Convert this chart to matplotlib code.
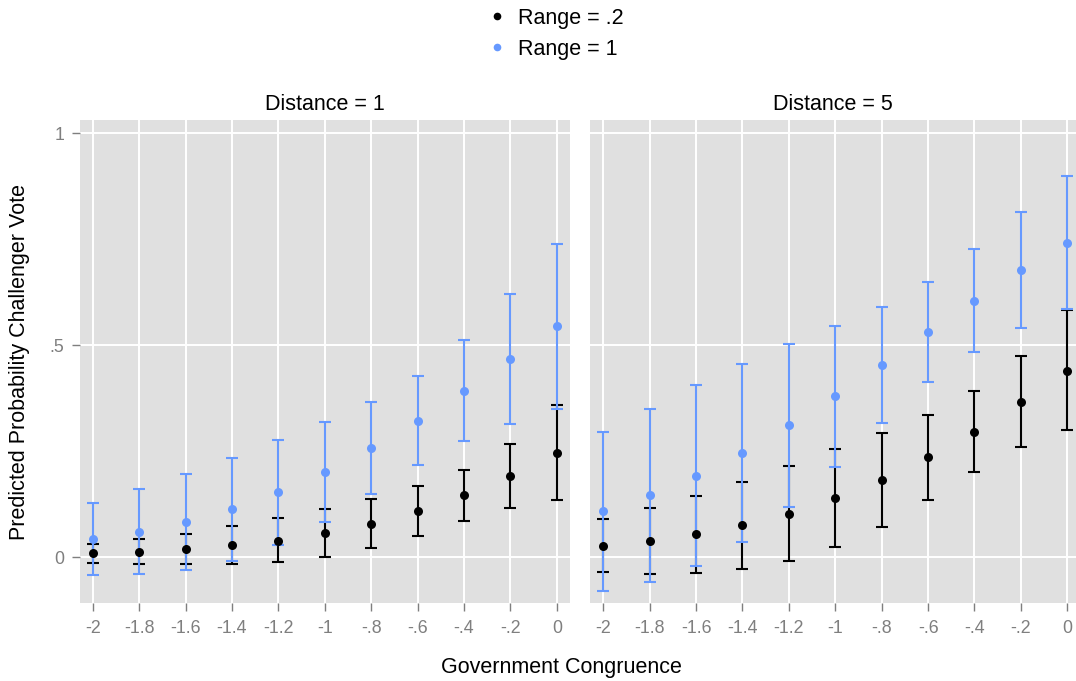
import matplotlib
matplotlib.use("Agg")
import matplotlib.pyplot as plt
from matplotlib.lines import Line2D

plt.rcParams['font.family'] = ['Liberation Sans', 'DejaVu Sans']

# ---- data -------------------------------------------------------------
gov_congruence = [-2.0, -1.8, -1.6, -1.4, -1.2, -1.0, -0.8, -0.6, -0.4, -0.2, 0.0]
x_tick_labels = ['-2', '-1.8', '-1.6', '-1.4', '-1.2', '-1', '-.8', '-.6', '-.4', '-.2', '0']
y_ticks = [0, 0.5, 1]
y_tick_labels = ['0', '.5', '1']
panel_titles = ['Distance = 1', 'Distance = 5']
series_labels = ['Range = .2', 'Range = 1']

# Distance = 1
d1_r02_est = [0.009, 0.013, 0.020, 0.028, 0.039, 0.057, 0.079, 0.108, 0.146, 0.192, 0.246]
d1_r02_lo = [-0.014, -0.016, -0.017, -0.016, -0.011, 0.001, 0.021, 0.050, 0.086, 0.116, 0.134]
d1_r02_hi = [0.031, 0.042, 0.055, 0.073, 0.092, 0.113, 0.137, 0.167, 0.206, 0.267, 0.358]
d1_r1_est = [0.042, 0.060, 0.084, 0.114, 0.153, 0.200, 0.258, 0.322, 0.392, 0.467, 0.545]
d1_r1_lo = [-0.042, -0.040, -0.031, -0.008, 0.028, 0.083, 0.149, 0.217, 0.274, 0.315, 0.349]
d1_r1_hi = [0.127, 0.161, 0.197, 0.235, 0.277, 0.318, 0.365, 0.427, 0.512, 0.620, 0.739]

# Distance = 5
d5_r02_est = [0.026, 0.039, 0.054, 0.075, 0.103, 0.139, 0.182, 0.236, 0.296, 0.367, 0.440]
d5_r02_lo = [-0.035, -0.039, -0.037, -0.028, -0.010, 0.024, 0.071, 0.135, 0.202, 0.259, 0.299]
d5_r02_hi = [0.089, 0.115, 0.145, 0.178, 0.216, 0.255, 0.292, 0.336, 0.393, 0.474, 0.583]
d5_r1_est = [0.109, 0.146, 0.192, 0.246, 0.311, 0.379, 0.454, 0.530, 0.605, 0.677, 0.741]
d5_r1_lo = [-0.079, -0.058, -0.021, 0.037, 0.118, 0.213, 0.316, 0.413, 0.485, 0.540, 0.586]
d5_r1_hi = [0.296, 0.350, 0.405, 0.456, 0.503, 0.546, 0.590, 0.648, 0.726, 0.814, 0.899]

# ---- style ------------------------------------------------------------
W, H = 1076, 681
BLACK = '#000000'
BLUE = '#6699FF'
PANEL_BG = '#E0E0E0'
TICK_GREY = '#7F7F7F'

fig = plt.figure(figsize=(W / 100, H / 100), dpi=100)


def fx(px):
    return px / W


def fy(py):
    return 1 - py / H


top_px, bot_px = 120, 603
ax1 = fig.add_axes([fx(80), fy(bot_px), fx(490), (bot_px - top_px) / H])
ax2 = fig.add_axes([fx(590), fy(bot_px), fx(486), (bot_px - top_px) / H])

panels = [
    (ax1, panel_titles[0], (d1_r02_est, d1_r02_lo, d1_r02_hi), (d1_r1_est, d1_r1_lo, d1_r1_hi), (-2.055, 0.057)),
    (ax2, panel_titles[1], (d5_r02_est, d5_r02_lo, d5_r02_hi), (d5_r1_est, d5_r1_lo, d5_r1_hi), (-2.057, 0.0375)),
]

for ax, title, blk, blu, xlim in panels:
    ax.set_facecolor(PANEL_BG)
    for s in ax.spines.values():
        s.set_visible(False)
    ax.set_xlim(*xlim)
    ax.set_ylim(-0.108, 1.031)
    ax.set_xticks(gov_congruence)
    ax.set_xticklabels(x_tick_labels)
    ax.set_yticks(y_ticks)
    ax.grid(True, color='white', linewidth=1.4)
    ax.set_axisbelow(True)
    ax.tick_params(axis='both', colors=TICK_GREY, labelcolor=TICK_GREY,
                   labelsize=12.8, length=6, width=1, pad=6.5)
    ax.tick_params(axis='y', pad=5.5)

    for (est, lo, hi), col in ((blk, BLACK), (blu, BLUE)):
        yerr = [[e - l for e, l in zip(est, lo)], [h - e for e, h in zip(est, hi)]]
        ax.errorbar(gov_congruence, est, yerr=yerr, fmt='none', ecolor=col,
                    elinewidth=1.5, capsize=4.5, capthick=1.5, zorder=2)
    for (est, lo, hi), col in ((blk, BLACK), (blu, BLUE)):
        ax.plot(gov_congruence, est, 'o', color=col, markersize=6.5,
                markeredgewidth=0, zorder=3)
    ax.set_title(title, fontsize=15.5, color='black', pad=7)

ax1.set_yticklabels(y_tick_labels)
ax2.tick_params(axis='y', left=False, labelleft=False)

fig.text(fx(561.5), fy(668), 'Government Congruence', ha='center', va='center',
         fontsize=15.5, color='black')
fig.text(fx(20), fy(361.5), 'Predicted Probability Challenger Vote', ha='center',
         va='center', rotation=90, fontsize=15.5, color='black')

handles = [Line2D([], [], marker='o', linestyle='none', color=BLACK, markersize=5.5, markeredgewidth=0),
           Line2D([], [], marker='o', linestyle='none', color=BLUE, markersize=5.5, markeredgewidth=0)]
fig.legend(handles, series_labels, loc='upper left', bbox_to_anchor=(fx(486), fy(8)),
           frameon=False, fontsize=15.5, handlelength=1.0, handletextpad=0.5,
           labelspacing=0.45, borderpad=0, borderaxespad=0)

fig.savefig('out.png', dpi=100)
